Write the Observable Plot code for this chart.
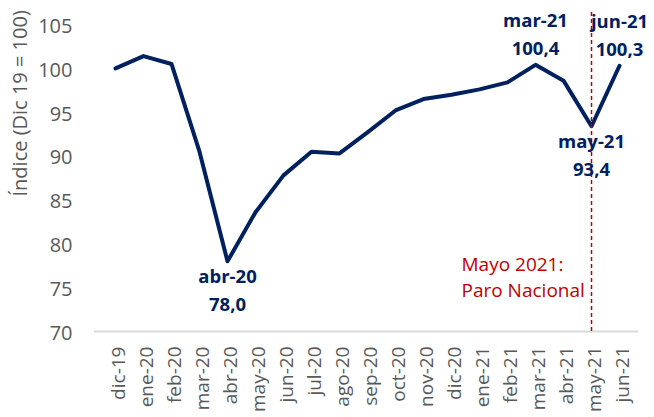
<!DOCTYPE html>
<html>
<head>
<meta charset="utf-8">
<script src="https://cdn.jsdelivr.net/npm/d3@7"></script>
<script src="https://cdn.jsdelivr.net/npm/@observablehq/plot@0.6"></script>
<style>
  html, body { margin: 0; padding: 0; background: #ffffff; }
  #chart { width: 654px; height: 417px; }
</style>
</head>
<body>
<div id="chart"></div>
<script>
const months = ["dic-19","ene-20","feb-20","mar-20","abr-20","may-20","jun-20","jul-20","ago-20","sep-20","oct-20","nov-20","dic-20","ene-21","feb-21","mar-21","abr-21","may-21","jun-21"];
const values = [100.0, 101.4, 100.5, 90.5, 78.0, 83.6, 87.8, 90.5, 90.3, 92.7, 95.2, 96.5, 97.0, 97.6, 98.4, 100.4, 98.6, 93.4, 100.3];
const yTicks = [70, 75, 80, 85, 90, 95, 100, 105];
const labelsAbove = ["mar-21", "jun-21"];
const labelsBelow = ["abr-20", "may-21"];
const eventMonth = ["may-21"];
const eventNote = "Mayo 2021:\nParo Nacional";
const yTitle = "Índice (Dic 19 = 100)";

const data = months.map((m, i) => ({month: m, value: values[i]}));
const fmt = v => v.toFixed(1).replace(".", ",");
const above = data.filter(d => labelsAbove.includes(d.month));
const below = data.filter(d => labelsBelow.includes(d.month));

const navy = "#002060";
const red = "#c00000";
const grey = "#595959";
const bold = {fontSize: 18.5, fontWeight: "bold", fill: navy};

const chart = Plot.plot({
  width: 654,
  height: 417,
  marginLeft: 108,
  marginRight: 29,
  marginTop: 24,
  marginBottom: 86,
  style: {fontFamily: "'Open Sans', sans-serif", background: "#ffffff", overflow: "visible"},
  x: {type: "point", domain: months, padding: 0, axis: null},
  y: {domain: [70, 105], axis: null},
  marks: [
    Plot.axisY(yTicks, {tickSize: 0, tickPadding: 36, fontSize: 20, fill: grey, label: null, dy: 2}),
    Plot.axisX(months, {tickSize: 0, tickPadding: 15, tickRotate: -90, fontSize: 19, fill: grey, label: null, dx: 3}),
    Plot.text([yTitle], {frameAnchor: "left", rotate: -90, dx: -88, dy: 18.5, fontSize: 20, fill: grey}),
    Plot.ruleY([70], {stroke: "#d9d9d9", strokeWidth: 2, insetLeft: -14, insetRight: -13}),
    Plot.line(data, {x: "month", y: "value", stroke: navy, strokeWidth: 4, strokeLinejoin: "round", strokeLinecap: "round"}),
    Plot.ruleX(eventMonth, {y1: 70, y2: 106.6, stroke: red, strokeWidth: 1.5, strokeDasharray: "4,3"}),
    Plot.text(eventMonth, {x: d => d, y: () => 70, text: () => eventNote, textAnchor: "start", lineAnchor: "middle", lineHeight: 1.37, dx: -130, dy: -56, fontSize: 19, fill: red}),
    Plot.text(above, {x: "month", y: "value", text: "month", dy: -44, ...bold}),
    Plot.text(above, {x: "month", y: "value", text: d => fmt(d.value), dy: -16, ...bold}),
    Plot.text(below, {x: "month", y: "value", text: "month", dy: 16, ...bold}),
    Plot.text(below, {x: "month", y: "value", text: d => fmt(d.value), dy: 44, ...bold})
  ]
});
document.getElementById("chart").appendChild(chart);
</script>
</body>
</html>
